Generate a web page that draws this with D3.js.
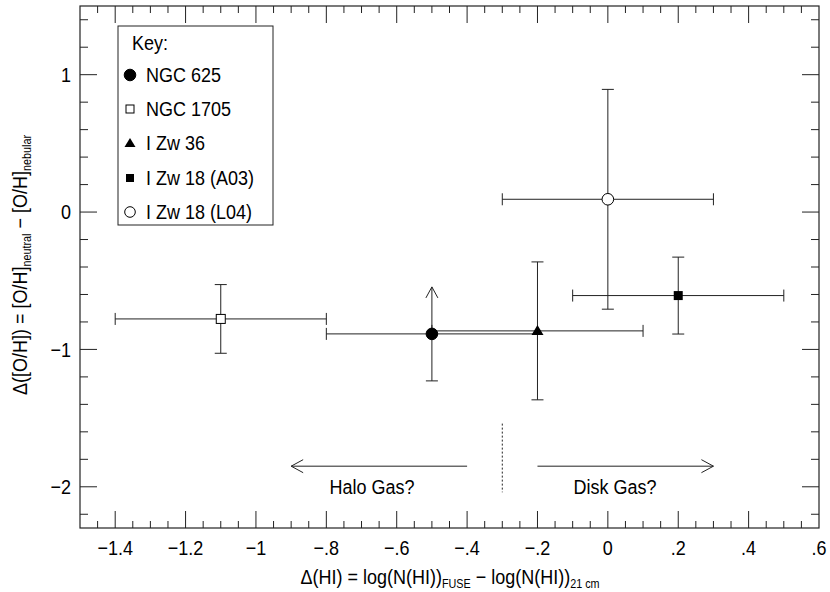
<!DOCTYPE html>
<html>
<head>
<meta charset="utf-8">
<script src="https://cdn.jsdelivr.net/npm/d3@7"></script>
<style>
  html, body { margin: 0; padding: 0; background: #fff; }
  svg { display: block; }
  text { font-family: "Liberation Sans", Arial, Helvetica, sans-serif; fill: #000; }
</style>
</head>
<body>
<svg id="chart" width="830" height="592"></svg>
<script>
// ---- Data ----
const names      = ["NGC 625", "NGC 1705", "I Zw 36", "I Zw 18 (A03)", "I Zw 18 (L04)"];
const symbols    = ["circleFilled", "squareOpen", "triangleFilled", "squareFilled", "circleOpen"];
const dHI        = [-0.5, -1.1, -0.2, 0.2, 0.0];
const dHIerr     = [0.3, 0.3, 0.3, 0.3, 0.3];
const dOH        = [-0.887, -0.778, -0.865, -0.608, 0.093];
const dOHerrLo   = [0.342, 0.25, 0.502, 0.28, 0.80];
const dOHerrHi   = [0.342, 0.25, 0.502, 0.28, 0.80];
const lowerLimit = [true, false, false, false, false];

const xMajorTicks = [-1.4, -1.2, -1, -0.8, -0.6, -0.4, -0.2, 0, 0.2, 0.4, 0.6];
const xTickLabels = ["\u22121.4", "\u22121.2", "\u22121", "\u2212.8", "\u2212.6", "\u2212.4", "\u2212.2", "0", ".2", ".4", ".6"];
const yMajorTicks = [-2, -1, 0, 1];
const yTickLabels = ["\u22122", "\u22121", "0", "1"];

const haloArrow = [-0.4, -0.9];
const diskArrow = [-0.2, 0.3];
const arrowY = -1.85;
const dividerX = -0.3;
const dividerY = [-1.54, -2.04];
const haloLabel = { text: "Halo Gas?", x: -0.67, y: -2.0 };
const diskLabel = { text: "Disk Gas?", x: 0.02, y: -2.0 };

// ---- Layout ----
const svg = d3.select("#chart");
const L = 80, R = 819, T = 6, B = 528;
const x = d3.scaleLinear().domain([-1.5, 0.6]).range([L, R]);
const y = d3.scaleLinear().domain([-2.3, 1.5]).range([B, T]);
const ink = "#222";
const fs = 18;
const SY = 1.12; // glyphs in the reference are slightly taller than wide

const xMinor = d3.range(-29, 12).map(i => i * 0.05).filter(v => v > -1.5 + 1e-9 && v < 0.6 - 1e-9);
const yMinor = d3.range(-11, 8).map(i => i * 0.2).filter(v => v > -2.3 && v < 1.5);

const g = svg.append("g");

function label(parent, tx, ty, str, anchor, midline) {
  const t = parent.append("text")
    .attr("transform", `translate(${tx},${ty}) scale(1,${SY})`)
    .attr("text-anchor", anchor || "start")
    .attr("font-size", fs)
    .text(str);
  if (midline) t.attr("dy", "0.36em");
  return t;
}

// frame
g.append("rect").attr("x", L).attr("y", T).attr("width", R - L).attr("height", B - T)
  .attr("fill", "none").attr("stroke", ink).attr("stroke-width", 1.2);

function isMajor(v, list) { return list.some(m => Math.abs(m - v) < 1e-6); }

xMinor.forEach(v => {
  const len = isMajor(v, xMajorTicks) ? 17 : 7;
  g.append("line").attr("x1", x(v)).attr("x2", x(v)).attr("y1", B).attr("y2", B - len).attr("stroke", ink);
  g.append("line").attr("x1", x(v)).attr("x2", x(v)).attr("y1", T).attr("y2", T + len).attr("stroke", ink);
});
yMinor.forEach(v => {
  const len = isMajor(v, yMajorTicks) ? 17 : 8;
  g.append("line").attr("y1", y(v)).attr("y2", y(v)).attr("x1", L).attr("x2", L + len).attr("stroke", ink);
  g.append("line").attr("y1", y(v)).attr("y2", y(v)).attr("x1", R).attr("x2", R - len).attr("stroke", ink);
});

xMajorTicks.forEach((v, i) => label(g, x(v), 555, xTickLabels[i], "middle"));
yMajorTicks.forEach((v, i) => label(g, 71, y(v), yTickLabels[i], "end", true));

// axis titles
const xt = g.append("text").attr("transform", `translate(450,584) scale(1,${SY})`)
  .attr("text-anchor", "middle").attr("font-size", fs);
xt.append("tspan").text("\u0394(HI) = log(N(HI))");
xt.append("tspan").attr("font-size", fs * 0.6).attr("dy", 4).text("FUSE");
xt.append("tspan").attr("dy", -4).text(" \u2212 log(N(HI))");
xt.append("tspan").attr("font-size", fs * 0.6).attr("dy", 4).text("21 cm");

const yt = g.append("text").attr("transform", `translate(27,265) rotate(-90) scale(1,${SY})`)
  .attr("text-anchor", "middle").attr("font-size", fs);
yt.append("tspan").text("\u0394([O/H]) = [O/H]");
yt.append("tspan").attr("font-size", fs * 0.6).attr("dy", 4).text("neutral");
yt.append("tspan").attr("dy", -4).text(" \u2212 [O/H]");
yt.append("tspan").attr("font-size", fs * 0.6).attr("dy", 4).text("nebular");

function drawMarker(sel, type, cx, cy) {
  if (type === "circleFilled" || type === "circleOpen") {
    sel.append("circle").attr("cx", cx).attr("cy", cy).attr("r", 5.8)
      .attr("fill", type === "circleFilled" ? "#000" : "#fff").attr("stroke", "#000").attr("stroke-width", 1);
  } else if (type === "squareOpen") {
    sel.append("rect").attr("x", cx - 4.5).attr("y", cy - 4.5).attr("width", 9).attr("height", 9)
      .attr("fill", "#fff").attr("stroke", "#000").attr("stroke-width", 1);
  } else if (type === "squareFilled") {
    sel.append("rect").attr("x", cx - 4.5).attr("y", cy - 4.5).attr("width", 9).attr("height", 9)
      .attr("fill", "#000");
  } else if (type === "triangleFilled") {
    sel.append("path").attr("d", `M${cx - 6},${cy + 4} L${cx + 6},${cy + 4} L${cx},${cy - 6} Z`).attr("fill", "#000");
  }
}

const cap = 6;
const pts = g.append("g");
names.forEach((n, i) => {
  const cx = x(dHI[i]), cy = y(dOH[i]);
  const x0 = x(dHI[i] - dHIerr[i]), x1 = x(dHI[i] + dHIerr[i]);
  const yLo = y(dOH[i] - dOHerrLo[i]), yHi = y(dOH[i] + dOHerrHi[i]);
  pts.append("line").attr("x1", x0).attr("x2", x1).attr("y1", cy).attr("y2", cy).attr("stroke", ink);
  pts.append("line").attr("x1", x0).attr("x2", x0).attr("y1", cy - cap).attr("y2", cy + cap).attr("stroke", ink);
  pts.append("line").attr("x1", x1).attr("x2", x1).attr("y1", cy - cap).attr("y2", cy + cap).attr("stroke", ink);
  pts.append("line").attr("x1", cx).attr("x2", cx).attr("y1", yLo).attr("y2", yHi).attr("stroke", ink);
  pts.append("line").attr("x1", cx - cap).attr("x2", cx + cap).attr("y1", yLo).attr("y2", yLo).attr("stroke", ink);
  if (lowerLimit[i]) {
    pts.append("path").attr("d", `M${cx - 6},${yHi + 11} L${cx},${yHi} L${cx + 6},${yHi + 11}`)
      .attr("fill", "none").attr("stroke", ink);
  } else {
    pts.append("line").attr("x1", cx - cap).attr("x2", cx + cap).attr("y1", yHi).attr("y2", yHi).attr("stroke", ink);
  }
});
names.forEach((n, i) => drawMarker(pts, symbols[i], x(dHI[i]), y(dOH[i])));

function arrow(from, to) {
  const yy = y(arrowY), xa = x(from), xb = x(to);
  const dir = xb > xa ? 1 : -1;
  g.append("line").attr("x1", xa).attr("x2", xb).attr("y1", yy).attr("y2", yy).attr("stroke", ink);
  g.append("path").attr("d", `M${xb - dir * 12},${yy - 6.5} L${xb},${yy} L${xb - dir * 12},${yy + 6.5}`)
    .attr("fill", "none").attr("stroke", ink);
}
arrow(haloArrow[0], haloArrow[1]);
arrow(diskArrow[0], diskArrow[1]);
g.append("line").attr("x1", x(dividerX)).attr("x2", x(dividerX))
  .attr("y1", y(dividerY[0])).attr("y2", y(dividerY[1]))
  .attr("stroke", ink).attr("stroke-dasharray", "2,2");
[haloLabel, diskLabel].forEach(l => label(g, x(l.x), y(l.y), l.text, "middle", true));

// legend
const leg = g.append("g");
leg.append("rect").attr("x", 118).attr("y", 26).attr("width", 155).attr("height", 199)
  .attr("fill", "#fff").attr("stroke", ink).attr("stroke-width", 1);
label(leg, 132, 43, "Key:", "start", true);
const rowY = [75, 109, 143, 178, 212];
names.forEach((n, i) => {
  const ty = rowY[i];
  if (symbols[i] === "circleFilled" || symbols[i] === "circleOpen") {
    leg.append("circle").attr("cx", 130).attr("cy", ty).attr("r", symbols[i] === "circleFilled" ? 5.8 : 5.3)
      .attr("fill", symbols[i] === "circleFilled" ? "#000" : "#fff").attr("stroke", "#000");
  } else if (symbols[i] === "squareOpen") {
    leg.append("rect").attr("x", 126).attr("y", ty - 4).attr("width", 8).attr("height", 8)
      .attr("fill", "#fff").attr("stroke", "#000");
  } else if (symbols[i] === "squareFilled") {
    leg.append("rect").attr("x", 126).attr("y", ty - 4).attr("width", 8).attr("height", 8).attr("fill", "#000");
  } else {
    leg.append("path").attr("d", `M124.5,${ty + 4} L135.5,${ty + 4} L130,${ty - 5} Z`).attr("fill", "#000");
  }
  label(leg, 146, ty, n, "start", true);
});
</script>
</body>
</html>
